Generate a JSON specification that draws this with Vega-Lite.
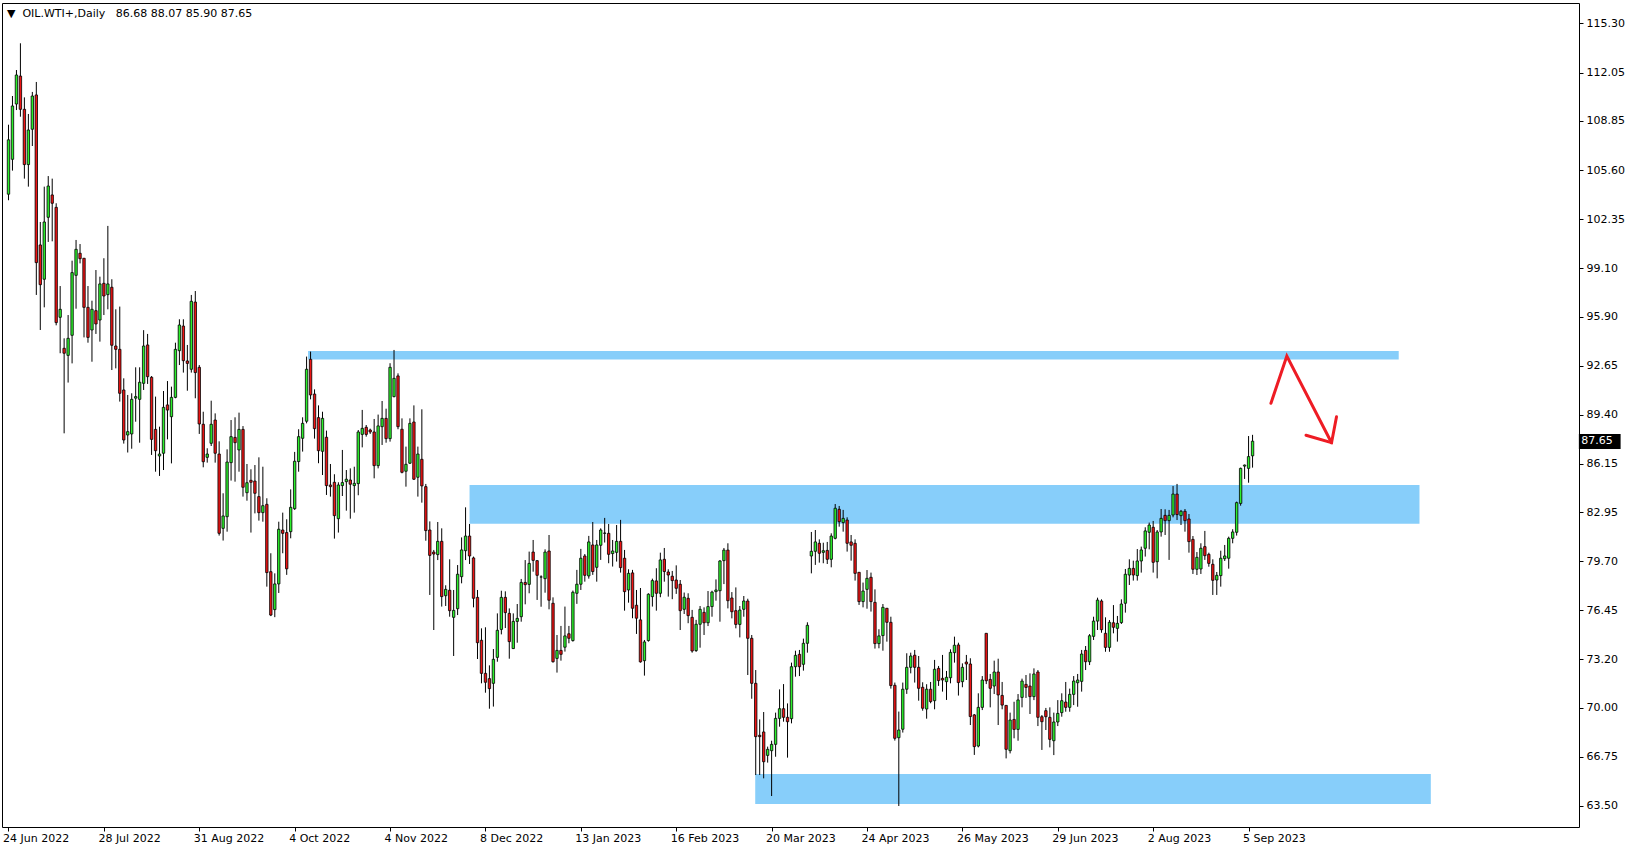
{
"$schema": "https://vega.github.io/schema/vega-lite/v6.json",
"width": 1577, "height": 824,
"autosize": {"type": "none"},
"padding": {"left": 2, "top": 3, "right": 50, "bottom": 23},
"background": "white",
"config": {"view": {"stroke": "black", "strokeWidth": 1}, "font": "DejaVu Sans"},
"title": {"text": "▼\u00a0\u00a0OIL.WTI+,Daily\u00a0\u00a0\u00a086.68 88.07 85.90 87.65", "anchor": "start", "frame": "group", "orient": "top", "offset": 0, "baseline": "top", "dx": 5, "dy": 16, "fontSize": 11, "fontWeight": "normal", "font": "DejaVu Sans", "color": "black"},
"datasets": {
"candles": [
{"i":0,"o":104.0,"h":108.6,"l":103.6,"c":107.6},
{"i":1,"o":106.31,"h":110.5,"l":105.56,"c":109.84},
{"i":2,"o":109.97,"h":112.22,"l":109.57,"c":111.89},
{"i":3,"o":111.82,"h":113.99,"l":109.13,"c":109.62},
{"i":4,"o":109.62,"h":110.41,"l":105.03,"c":105.96},
{"i":5,"o":105.96,"h":109.31,"l":104.5,"c":108.25},
{"i":6,"o":108.3,"h":110.77,"l":107.19,"c":110.5},
{"i":7,"o":110.57,"h":111.43,"l":97.33,"c":99.47},
{"i":8,"o":100.64,"h":102.16,"l":95.01,"c":98.01},
{"i":9,"o":98.37,"h":104.5,"l":96.51,"c":102.16},
{"i":10,"o":102.47,"h":105.2,"l":100.84,"c":104.54},
{"i":11,"o":103.95,"h":105.03,"l":100.88,"c":103.4},
{"i":12,"o":103.13,"h":103.4,"l":95.32,"c":95.5},
{"i":13,"o":95.85,"h":97.92,"l":93.47,"c":96.38},
{"i":14,"o":93.8,"h":94.46,"l":88.17,"c":93.47},
{"i":15,"o":93.33,"h":96.0,"l":91.53,"c":94.46},
{"i":16,"o":94.66,"h":99.6,"l":92.8,"c":98.81},
{"i":17,"o":98.63,"h":100.97,"l":96.42,"c":100.35},
{"i":18,"o":100.09,"h":100.7,"l":99.42,"c":99.73},
{"i":19,"o":99.76,"h":99.76,"l":94.52,"c":96.51},
{"i":20,"o":96.51,"h":97.92,"l":94.17,"c":94.52},
{"i":21,"o":95.01,"h":96.95,"l":92.91,"c":96.38},
{"i":22,"o":96.29,"h":98.98,"l":94.75,"c":95.41},
{"i":23,"o":95.67,"h":98.54,"l":94.24,"c":98.06},
{"i":24,"o":98.1,"h":99.76,"l":96.0,"c":97.26},
{"i":25,"o":97.35,"h":101.9,"l":96.38,"c":98.06},
{"i":26,"o":97.84,"h":98.37,"l":92.36,"c":94.0},
{"i":27,"o":93.95,"h":96.38,"l":92.47,"c":93.73},
{"i":28,"o":93.73,"h":96.56,"l":90.27,"c":90.82},
{"i":29,"o":91.04,"h":91.81,"l":87.49,"c":87.73},
{"i":30,"o":88.06,"h":90.71,"l":86.9,"c":88.28},
{"i":31,"o":88.13,"h":90.82,"l":87.15,"c":90.42},
{"i":32,"o":90.5,"h":92.54,"l":88.94,"c":90.6},
{"i":33,"o":90.42,"h":92.54,"l":87.55,"c":91.55},
{"i":34,"o":91.48,"h":95.0,"l":91.04,"c":93.95},
{"i":35,"o":94.02,"h":94.75,"l":91.44,"c":91.92},
{"i":36,"o":91.88,"h":91.96,"l":86.74,"c":87.77},
{"i":37,"o":88.43,"h":90.6,"l":85.63,"c":87.02},
{"i":38,"o":86.67,"h":88.61,"l":85.35,"c":86.8},
{"i":39,"o":86.85,"h":90.97,"l":85.74,"c":89.89},
{"i":40,"o":90.05,"h":91.63,"l":87.77,"c":89.71},
{"i":41,"o":89.27,"h":91.26,"l":86.18,"c":90.55},
{"i":42,"o":90.55,"h":94.17,"l":90.49,"c":93.73},
{"i":43,"o":93.64,"h":95.72,"l":92.69,"c":95.34},
{"i":44,"o":95.27,"h":95.72,"l":92.19,"c":92.98},
{"i":45,"o":92.96,"h":94.02,"l":90.99,"c":92.8},
{"i":46,"o":92.41,"h":97.33,"l":92.19,"c":96.91},
{"i":47,"o":96.86,"h":97.59,"l":90.49,"c":92.19},
{"i":48,"o":92.54,"h":92.69,"l":88.13,"c":88.79},
{"i":49,"o":88.77,"h":89.6,"l":85.92,"c":86.29},
{"i":50,"o":86.58,"h":87.18,"l":86.23,"c":86.8},
{"i":51,"o":87.51,"h":90.33,"l":87.33,"c":88.77},
{"i":52,"o":89.05,"h":89.49,"l":86.23,"c":86.85},
{"i":53,"o":86.8,"h":87.64,"l":81.4,"c":81.55},
{"i":54,"o":81.88,"h":84.2,"l":81.07,"c":82.7},
{"i":55,"o":82.65,"h":87.11,"l":81.66,"c":86.27},
{"i":56,"o":86.23,"h":89.05,"l":85.04,"c":87.95},
{"i":57,"o":87.9,"h":89.23,"l":84.97,"c":87.55},
{"i":58,"o":87.07,"h":89.54,"l":85.63,"c":88.43},
{"i":59,"o":88.43,"h":88.65,"l":83.98,"c":84.6},
{"i":60,"o":84.24,"h":86.14,"l":83.71,"c":84.9},
{"i":61,"o":85.06,"h":85.79,"l":81.6,"c":84.93},
{"i":62,"o":85.01,"h":86.07,"l":82.87,"c":84.2},
{"i":63,"o":83.98,"h":86.58,"l":82.39,"c":82.92},
{"i":64,"o":82.92,"h":85.96,"l":82.32,"c":83.38},
{"i":65,"o":83.47,"h":83.87,"l":78.02,"c":78.95},
{"i":66,"o":79.01,"h":80.23,"l":76.07,"c":76.14},
{"i":67,"o":76.5,"h":78.9,"l":76.0,"c":78.2},
{"i":68,"o":78.2,"h":82.32,"l":77.6,"c":81.82},
{"i":69,"o":81.77,"h":82.92,"l":80.23,"c":81.55},
{"i":70,"o":81.6,"h":82.48,"l":78.8,"c":79.2},
{"i":71,"o":81.66,"h":84.46,"l":81.22,"c":83.27},
{"i":72,"o":83.18,"h":86.94,"l":83.1,"c":86.32},
{"i":73,"o":86.3,"h":88.44,"l":85.63,"c":87.95},
{"i":74,"o":87.84,"h":89.23,"l":86.96,"c":88.83},
{"i":75,"o":88.97,"h":93.25,"l":88.83,"c":92.41},
{"i":76,"o":93.07,"h":93.58,"l":90.42,"c":90.71},
{"i":77,"o":90.77,"h":91.08,"l":87.82,"c":88.48},
{"i":78,"o":89.21,"h":90.02,"l":86.19,"c":87.02},
{"i":79,"o":86.98,"h":89.6,"l":85.41,"c":89.16},
{"i":80,"o":87.91,"h":88.35,"l":84.09,"c":84.71},
{"i":81,"o":84.75,"h":86.14,"l":83.98,"c":84.64},
{"i":82,"o":84.93,"h":85.46,"l":81.2,"c":82.72},
{"i":83,"o":82.52,"h":84.93,"l":81.6,"c":84.75},
{"i":84,"o":84.71,"h":87.07,"l":84.02,"c":84.91},
{"i":85,"o":84.97,"h":85.74,"l":83.05,"c":85.13},
{"i":86,"o":85.08,"h":85.85,"l":82.52,"c":84.8},
{"i":87,"o":84.71,"h":85.96,"l":82.92,"c":84.86},
{"i":88,"o":84.84,"h":88.39,"l":84.07,"c":88.26},
{"i":89,"o":88.1,"h":89.72,"l":87.24,"c":88.5},
{"i":90,"o":88.57,"h":88.72,"l":87.95,"c":88.1},
{"i":91,"o":88.39,"h":88.48,"l":88.13,"c":88.26},
{"i":92,"o":88.26,"h":89.12,"l":85.19,"c":86.03},
{"i":93,"o":86.03,"h":89.41,"l":85.85,"c":88.66},
{"i":94,"o":88.61,"h":90.31,"l":87.4,"c":89.16},
{"i":95,"o":89.16,"h":89.8,"l":87.55,"c":87.82},
{"i":96,"o":87.82,"h":92.81,"l":87.62,"c":92.54},
{"i":97,"o":90.6,"h":93.69,"l":90.55,"c":91.81},
{"i":98,"o":91.97,"h":92.14,"l":88.44,"c":88.61},
{"i":99,"o":88.44,"h":89.16,"l":85.52,"c":85.59},
{"i":100,"o":85.66,"h":87.29,"l":84.64,"c":86.12},
{"i":101,"o":86.19,"h":89.16,"l":86.14,"c":88.83},
{"i":102,"o":88.92,"h":90.02,"l":85.08,"c":85.13},
{"i":103,"o":85.26,"h":87.29,"l":83.98,"c":86.8},
{"i":104,"o":86.45,"h":89.76,"l":83.58,"c":84.69},
{"i":105,"o":84.64,"h":84.82,"l":81.06,"c":81.73},
{"i":106,"o":81.77,"h":82.34,"l":77.47,"c":80.09},
{"i":107,"o":80.31,"h":80.45,"l":75.15,"c":80.18},
{"i":108,"o":80.14,"h":82.3,"l":79.78,"c":81.02},
{"i":109,"o":81.02,"h":81.88,"l":76.7,"c":77.36},
{"i":110,"o":77.42,"h":78.11,"l":76.74,"c":77.84},
{"i":111,"o":77.78,"h":79.83,"l":76.03,"c":76.43},
{"i":112,"o":75.99,"h":77.8,"l":73.43,"c":76.45},
{"i":113,"o":76.56,"h":79.45,"l":76.14,"c":78.84},
{"i":114,"o":78.68,"h":81.28,"l":78.24,"c":80.45},
{"i":115,"o":80.4,"h":83.27,"l":79.78,"c":81.37},
{"i":116,"o":81.37,"h":82.17,"l":79.52,"c":80.05},
{"i":117,"o":79.92,"h":80.01,"l":76.65,"c":77.25},
{"i":118,"o":77.31,"h":77.8,"l":73.23,"c":74.31},
{"i":119,"o":74.47,"h":75.26,"l":71.62,"c":72.28},
{"i":120,"o":72.28,"h":75.33,"l":71.0,"c":71.69},
{"i":121,"o":71.93,"h":72.81,"l":69.94,"c":71.27},
{"i":122,"o":71.62,"h":73.89,"l":70.08,"c":73.21},
{"i":123,"o":73.34,"h":76.25,"l":73.05,"c":75.13},
{"i":124,"o":75.19,"h":77.75,"l":74.86,"c":77.31},
{"i":125,"o":77.31,"h":77.71,"l":75.28,"c":76.3},
{"i":126,"o":76.25,"h":76.58,"l":73.25,"c":74.38},
{"i":127,"o":73.92,"h":76.25,"l":73.89,"c":75.72},
{"i":128,"o":75.72,"h":76.87,"l":74.31,"c":75.92},
{"i":129,"o":76.03,"h":78.53,"l":75.7,"c":78.3},
{"i":130,"o":78.3,"h":79.78,"l":76.85,"c":78.15},
{"i":131,"o":78.17,"h":80.34,"l":77.58,"c":79.56},
{"i":132,"o":80.31,"h":81.11,"l":79.01,"c":79.76},
{"i":133,"o":79.74,"h":79.78,"l":77.14,"c":78.77},
{"i":134,"o":78.66,"h":78.77,"l":76.69,"c":78.66},
{"i":135,"o":78.55,"h":80.49,"l":77.62,"c":80.31},
{"i":136,"o":80.38,"h":81.44,"l":76.52,"c":77.12},
{"i":137,"o":76.92,"h":77.31,"l":72.99,"c":73.05},
{"i":138,"o":73.27,"h":74.82,"l":72.33,"c":73.8},
{"i":139,"o":73.8,"h":75.42,"l":73.12,"c":73.54},
{"i":140,"o":74.01,"h":76.7,"l":73.72,"c":74.76},
{"i":141,"o":74.9,"h":75.42,"l":74.27,"c":74.6},
{"i":142,"o":74.45,"h":77.76,"l":74.38,"c":77.65},
{"i":143,"o":77.58,"h":79.13,"l":76.88,"c":78.18},
{"i":144,"o":78.18,"h":80.52,"l":77.8,"c":79.9},
{"i":145,"o":80.05,"h":80.18,"l":78.35,"c":78.77},
{"i":146,"o":78.73,"h":81.38,"l":78.55,"c":80.98},
{"i":147,"o":80.78,"h":82.3,"l":78.8,"c":79.02},
{"i":148,"o":79.3,"h":81.11,"l":78.35,"c":80.78},
{"i":149,"o":80.76,"h":81.88,"l":79.79,"c":81.77},
{"i":150,"o":81.55,"h":82.57,"l":80.94,"c":81.57},
{"i":151,"o":81.55,"h":82.17,"l":79.57,"c":80.16},
{"i":152,"o":80.21,"h":81.11,"l":79.35,"c":80.38},
{"i":153,"o":80.29,"h":82.1,"l":79.68,"c":81.02},
{"i":154,"o":81.02,"h":82.44,"l":78.95,"c":79.28},
{"i":155,"o":79.9,"h":80.45,"l":76.43,"c":77.69},
{"i":156,"o":77.8,"h":79.17,"l":76.96,"c":78.9},
{"i":157,"o":78.93,"h":79.13,"l":75.93,"c":76.59},
{"i":158,"o":76.79,"h":77.8,"l":74.89,"c":75.93},
{"i":159,"o":75.82,"h":77.93,"l":72.99,"c":73.04},
{"i":160,"o":73.12,"h":74.49,"l":72.13,"c":74.36},
{"i":161,"o":74.45,"h":77.58,"l":74.38,"c":77.52},
{"i":162,"o":77.36,"h":78.55,"l":76.7,"c":78.42},
{"i":163,"o":78.4,"h":79.24,"l":76.43,"c":77.58},
{"i":164,"o":77.58,"h":80.27,"l":77.32,"c":79.79},
{"i":165,"o":79.83,"h":80.58,"l":78.35,"c":79.02},
{"i":166,"o":78.99,"h":79.17,"l":77.36,"c":78.79},
{"i":167,"o":78.71,"h":79.06,"l":77.19,"c":78.42},
{"i":168,"o":78.46,"h":79.43,"l":77.54,"c":77.91},
{"i":169,"o":78.18,"h":78.46,"l":75.15,"c":76.43},
{"i":170,"o":76.52,"h":77.63,"l":76.21,"c":77.32},
{"i":171,"o":77.25,"h":77.58,"l":75.6,"c":76.1},
{"i":172,"o":75.99,"h":76.48,"l":73.65,"c":73.76},
{"i":173,"o":73.79,"h":75.82,"l":73.7,"c":75.53},
{"i":174,"o":75.53,"h":76.74,"l":73.98,"c":76.52},
{"i":175,"o":76.32,"h":76.65,"l":74.82,"c":75.63},
{"i":176,"o":75.63,"h":77.73,"l":75.41,"c":76.7},
{"i":177,"o":76.7,"h":77.75,"l":76.03,"c":77.66},
{"i":178,"o":77.69,"h":78.5,"l":77.09,"c":77.8},
{"i":179,"o":77.75,"h":79.78,"l":75.7,"c":79.72},
{"i":180,"o":79.74,"h":80.58,"l":78.19,"c":80.44},
{"i":181,"o":80.44,"h":80.89,"l":76.58,"c":77.09},
{"i":182,"o":77.27,"h":77.66,"l":75.92,"c":76.36},
{"i":183,"o":76.43,"h":77.97,"l":75.26,"c":75.52},
{"i":184,"o":75.52,"h":76.74,"l":74.66,"c":76.47},
{"i":185,"o":76.52,"h":77.4,"l":76.03,"c":77.07},
{"i":186,"o":77.07,"h":77.22,"l":72.17,"c":74.6},
{"i":187,"o":74.6,"h":74.82,"l":70.6,"c":71.62},
{"i":188,"o":71.62,"h":72.5,"l":65.55,"c":68.09},
{"i":189,"o":68.18,"h":69.23,"l":65.55,"c":68.09},
{"i":190,"o":68.4,"h":69.72,"l":65.33,"c":66.43},
{"i":191,"o":66.85,"h":67.43,"l":66.37,"c":67.25},
{"i":192,"o":67.16,"h":67.82,"l":64.16,"c":67.58},
{"i":193,"o":67.58,"h":69.68,"l":66.76,"c":69.3},
{"i":194,"o":69.3,"h":71.22,"l":68.75,"c":69.94},
{"i":195,"o":69.94,"h":71.57,"l":69.08,"c":69.37},
{"i":196,"o":69.37,"h":70.29,"l":66.7,"c":69.08},
{"i":197,"o":69.28,"h":72.99,"l":68.97,"c":72.72},
{"i":198,"o":72.72,"h":73.78,"l":72.06,"c":73.47},
{"i":199,"o":73.54,"h":73.83,"l":72.1,"c":72.72},
{"i":200,"o":72.88,"h":74.58,"l":72.46,"c":74.27},
{"i":201,"o":74.27,"h":75.66,"l":73.65,"c":75.46},
{"i":202,"o":80.05,"h":81.64,"l":78.9,"c":80.36},
{"i":203,"o":80.36,"h":81.77,"l":79.46,"c":80.98},
{"i":204,"o":80.89,"h":81.15,"l":79.61,"c":80.23},
{"i":205,"o":80.29,"h":80.93,"l":79.57,"c":80.4},
{"i":206,"o":80.42,"h":80.98,"l":79.52,"c":79.83},
{"i":207,"o":79.83,"h":81.55,"l":79.3,"c":81.37},
{"i":208,"o":81.22,"h":83.49,"l":81.15,"c":83.21},
{"i":209,"o":83.14,"h":83.36,"l":81.99,"c":82.32},
{"i":210,"o":82.26,"h":83.1,"l":81.66,"c":82.54},
{"i":211,"o":82.43,"h":82.61,"l":80.34,"c":80.89},
{"i":212,"o":80.98,"h":81.44,"l":79.74,"c":80.76},
{"i":213,"o":80.89,"h":81.15,"l":78.42,"c":78.9},
{"i":214,"o":78.97,"h":78.97,"l":76.81,"c":77.03},
{"i":215,"o":77.03,"h":78.29,"l":76.65,"c":77.73},
{"i":216,"o":77.84,"h":79.12,"l":76.56,"c":78.57},
{"i":217,"o":78.64,"h":78.95,"l":76.37,"c":77.03},
{"i":218,"o":76.98,"h":77.84,"l":73.92,"c":74.25},
{"i":219,"o":74.25,"h":75.2,"l":73.94,"c":74.76},
{"i":220,"o":74.78,"h":76.87,"l":73.78,"c":76.65},
{"i":221,"o":76.59,"h":76.59,"l":74.38,"c":75.66},
{"i":222,"o":75.66,"h":76.03,"l":71.27,"c":71.47},
{"i":223,"o":71.49,"h":71.67,"l":67.83,"c":67.98},
{"i":224,"o":68.02,"h":69.75,"l":63.5,"c":68.53},
{"i":225,"o":68.58,"h":71.67,"l":68.36,"c":71.23},
{"i":226,"o":71.23,"h":73.61,"l":70.92,"c":72.68},
{"i":227,"o":72.68,"h":73.65,"l":72.28,"c":73.43},
{"i":228,"o":73.48,"h":73.83,"l":71.67,"c":72.68},
{"i":229,"o":72.68,"h":73.43,"l":70.47,"c":71.29},
{"i":230,"o":71.36,"h":71.69,"l":69.81,"c":69.97},
{"i":231,"o":69.92,"h":71.56,"l":69.28,"c":71.23},
{"i":232,"o":71.23,"h":71.71,"l":70.3,"c":70.41},
{"i":233,"o":70.47,"h":73.17,"l":69.9,"c":72.55},
{"i":234,"o":72.61,"h":72.77,"l":71.45,"c":71.8},
{"i":235,"o":71.95,"h":73.5,"l":71.07,"c":71.84},
{"i":236,"o":71.73,"h":72.44,"l":70.52,"c":72.02},
{"i":237,"o":71.99,"h":73.87,"l":71.62,"c":73.67},
{"i":238,"o":73.65,"h":74.71,"l":72.99,"c":74.14},
{"i":239,"o":74.16,"h":74.31,"l":70.81,"c":71.67},
{"i":240,"o":71.73,"h":72.94,"l":71.36,"c":72.68},
{"i":241,"o":73.03,"h":73.5,"l":71.84,"c":72.9},
{"i":242,"o":72.9,"h":73.28,"l":68.86,"c":69.42},
{"i":243,"o":69.53,"h":69.59,"l":66.88,"c":67.43},
{"i":244,"o":67.47,"h":70.96,"l":67.38,"c":70.03},
{"i":245,"o":70.03,"h":72.1,"l":69.85,"c":71.84},
{"i":246,"o":74.93,"h":74.93,"l":71.57,"c":71.79},
{"i":247,"o":71.88,"h":72.24,"l":70.03,"c":71.29},
{"i":248,"o":71.44,"h":73.12,"l":70.91,"c":72.37},
{"i":249,"o":72.37,"h":73.25,"l":68.86,"c":70.85},
{"i":250,"o":70.82,"h":71.71,"l":69.9,"c":70.18},
{"i":251,"o":70.16,"h":70.16,"l":66.65,"c":67.25},
{"i":252,"o":67.16,"h":69.68,"l":66.98,"c":69.19},
{"i":253,"o":69.23,"h":70.4,"l":67.98,"c":68.57},
{"i":254,"o":68.57,"h":70.91,"l":67.82,"c":70.52},
{"i":255,"o":70.69,"h":71.93,"l":70.03,"c":71.77},
{"i":256,"o":71.55,"h":72.17,"l":70.65,"c":71.35},
{"i":257,"o":71.44,"h":72.28,"l":69.59,"c":70.74},
{"i":258,"o":70.74,"h":72.61,"l":70.51,"c":72.24},
{"i":259,"o":72.37,"h":72.5,"l":68.79,"c":69.37},
{"i":260,"o":69.41,"h":69.52,"l":67.21,"c":69.08},
{"i":261,"o":69.81,"h":69.99,"l":68.53,"c":69.41},
{"i":262,"o":69.37,"h":70.03,"l":67.38,"c":67.91},
{"i":263,"o":67.82,"h":69.68,"l":66.87,"c":69.06},
{"i":264,"o":69.06,"h":70.51,"l":68.79,"c":69.63},
{"i":265,"o":69.68,"h":70.96,"l":69.41,"c":70.47},
{"i":266,"o":70.38,"h":71.71,"l":69.74,"c":70.03},
{"i":267,"o":70.03,"h":71.27,"l":69.74,"c":70.89},
{"i":268,"o":70.89,"h":72.1,"l":70.18,"c":71.77},
{"i":269,"o":71.66,"h":72.24,"l":70.07,"c":71.84},
{"i":270,"o":71.75,"h":73.83,"l":71.07,"c":73.56},
{"i":271,"o":73.8,"h":74.09,"l":72.5,"c":73.05},
{"i":272,"o":73.05,"h":74.88,"l":72.83,"c":74.77},
{"i":273,"o":74.73,"h":76.03,"l":74.49,"c":75.74},
{"i":274,"o":75.74,"h":77.29,"l":75.15,"c":77.13},
{"i":275,"o":77.07,"h":77.18,"l":74.97,"c":75.17},
{"i":276,"o":74.93,"h":75.99,"l":73.71,"c":74.0},
{"i":277,"o":74.0,"h":75.81,"l":73.71,"c":75.66},
{"i":278,"o":75.63,"h":76.8,"l":74.93,"c":75.33},
{"i":279,"o":75.26,"h":76.08,"l":74.38,"c":75.59},
{"i":280,"o":75.64,"h":77.18,"l":75.55,"c":76.87},
{"i":281,"o":76.92,"h":79.19,"l":76.3,"c":78.84},
{"i":282,"o":78.79,"h":79.83,"l":78.13,"c":79.23},
{"i":283,"o":79.23,"h":79.74,"l":78.42,"c":78.79},
{"i":284,"o":78.75,"h":80.51,"l":78.42,"c":79.72},
{"i":285,"o":79.72,"h":80.67,"l":78.95,"c":80.45},
{"i":286,"o":80.56,"h":81.95,"l":80.01,"c":81.71},
{"i":287,"o":81.62,"h":82.26,"l":80.49,"c":82.1},
{"i":288,"o":81.95,"h":82.37,"l":78.95,"c":79.63},
{"i":289,"o":79.67,"h":81.77,"l":78.57,"c":81.64},
{"i":290,"o":81.64,"h":83.16,"l":81.33,"c":82.54},
{"i":291,"o":82.74,"h":83.14,"l":81.44,"c":82.39},
{"i":292,"o":82.39,"h":83.1,"l":79.79,"c":82.74},
{"i":293,"o":82.76,"h":84.68,"l":82.61,"c":84.15},
{"i":294,"o":84.15,"h":84.82,"l":82.43,"c":82.79},
{"i":295,"o":82.72,"h":83.1,"l":82.1,"c":83.01},
{"i":296,"o":83.01,"h":83.16,"l":81.66,"c":82.39},
{"i":297,"o":82.5,"h":82.83,"l":80.27,"c":81.0},
{"i":298,"o":81.15,"h":81.37,"l":78.86,"c":79.17},
{"i":299,"o":79.17,"h":80.31,"l":78.79,"c":79.96},
{"i":300,"o":79.19,"h":80.89,"l":78.86,"c":80.56},
{"i":301,"o":80.67,"h":81.71,"l":79.79,"c":80.07},
{"i":302,"o":80.16,"h":80.27,"l":79.34,"c":79.56},
{"i":303,"o":79.5,"h":79.83,"l":77.47,"c":78.44},
{"i":304,"o":78.46,"h":78.99,"l":77.47,"c":78.77},
{"i":305,"o":78.75,"h":80.4,"l":78.02,"c":79.9},
{"i":306,"o":79.87,"h":80.78,"l":79.72,"c":80.05},
{"i":307,"o":79.9,"h":81.33,"l":79.21,"c":81.22},
{"i":308,"o":81.22,"h":81.82,"l":80.89,"c":81.64},
{"i":309,"o":81.62,"h":83.65,"l":81.4,"c":83.58},
{"i":310,"o":83.53,"h":85.9,"l":83.38,"c":85.85},
{"i":311,"o":86.0,"h":86.1,"l":85.15,"c":86.07},
{"i":312,"o":85.85,"h":87.99,"l":84.9,"c":86.63},
{"i":313,"o":86.68,"h":88.07,"l":85.9,"c":87.65}
],
"zones": [
{"x1": 75.375, "x2": 349.775, "lo": 93.05, "hi": 93.62},
{"x1": 116.0, "x2": 355.0, "lo": 82.19, "hi": 84.75},
{"x1": 187.875, "x2": 357.85, "lo": 63.63, "hi": 65.62}
],
"arrow": [
{"seg": "a", "k": 0, "x": 317.625, "p": 90.16},
{"seg": "a", "k": 1, "x": 321.625, "p": 93.29},
{"seg": "a", "k": 2, "x": 332.875, "p": 87.55},
{"seg": "b", "k": 0, "x": 326.45, "p": 88.04},
{"seg": "b", "k": 1, "x": 332.875, "p": 87.55},
{"seg": "b", "k": 2, "x": 334.125, "p": 89.27}
]
},
"layer": [
{
"data": {"name": "zones"},
"mark": {"type": "rect", "color": "#87cefa"},
"encoding": {
"x": {"field": "x1", "type": "quantitative",
 "scale": {"domain": [-0.375, 393.875], "nice": false, "zero": false},
 "axis": {"orient": "bottom", "values": [0,24,48,72,96,120,144,168,192,216,240,264,288,312],
  "labelExpr": "['24 Jun 2022','28 Jul 2022','31 Aug 2022','4 Oct 2022','4 Nov 2022','8 Dec 2022','13 Jan 2023','16 Feb 2023','20 Mar 2023','24 Apr 2023','26 May 2023','29 Jun 2023','2 Aug 2023','5 Sep 2023'][round(datum.value/24)]",
  "labelAlign": "left", "labelBaseline": "top", "labelPadding": 1, "labelOffset": -6, "labelFont": "DejaVu Sans", "labelFontSize": 11, "labelColor": "black",
  "tickSize": 4, "tickColor": "black", "domain": false, "grid": false, "title": null, "labelFlush": false, "labelOverlap": false, "labelBound": false}},
"x2": {"field": "x2"},
"y": {"field": "lo", "type": "quantitative",
 "scale": {"domain": [62.109, 116.657], "nice": false, "zero": false},
 "axis": {"orient": "right", "values": [63.5,66.75,70,73.2,76.45,79.7,82.95,86.15,89.4,92.65,95.9,99.1,102.35,105.6,108.85,112.05,115.3],
  "format": ".2f", "labelFont": "DejaVu Sans", "labelFontSize": 11, "labelColor": "black", "labelPadding": 3,
  "tickSize": 4, "tickColor": "black", "domain": false, "grid": false, "title": null, "labelOverlap": false, "labelBound": false, "labelFlush": false}},
"y2": {"field": "hi"}
}
},
{
"data": {"name": "candles"},
"mark": {"type": "rule", "color": "black", "strokeWidth": 1},
"encoding": {
"x": {"field": "i", "type": "quantitative"},
"y": {"field": "l", "type": "quantitative"},
"y2": {"field": "h"}
}
},
{
"data": {"name": "candles"},
"mark": {"type": "bar", "orient": "vertical", "width": 2.4, "stroke": "black", "strokeWidth": 0.8},
"encoding": {
"x": {"field": "i", "type": "quantitative"},
"y": {"field": "o", "type": "quantitative"},
"y2": {"field": "c"},
"fill": {"condition": {"test": "datum.c >= datum.o", "value": "#2cf02c"}, "value": "#ee1414"}
}
},
{
"data": {"name": "arrow"},
"mark": {"type": "line", "color": "#ee1c24", "strokeWidth": 3, "strokeCap": "round", "strokeJoin": "miter"},
"encoding": {
"x": {"field": "x", "type": "quantitative"},
"y": {"field": "p", "type": "quantitative"},
"detail": {"field": "seg"},
"order": {"field": "k"}
}
},
{
"data": {"values": [{"last": 87.65}]},
"mark": {"type": "rect", "color": "black"},
"encoding": {
"x": {"datum": 395.1, "type": "quantitative"},
"x2": {"datum": 405.6},
"y": {"datum": 87.13, "type": "quantitative"},
"y2": {"datum": 88.13}
}
},
{
"data": {"values": [{"last": 87.65}]},
"mark": {"type": "text", "color": "white", "font": "DejaVu Sans", "fontSize": 11, "align": "left", "baseline": "middle"},
"encoding": {
"x": {"datum": 395.7, "type": "quantitative"},
"y": {"field": "last", "type": "quantitative"},
"text": {"field": "last", "format": ".2f"}
}
}
]
}
